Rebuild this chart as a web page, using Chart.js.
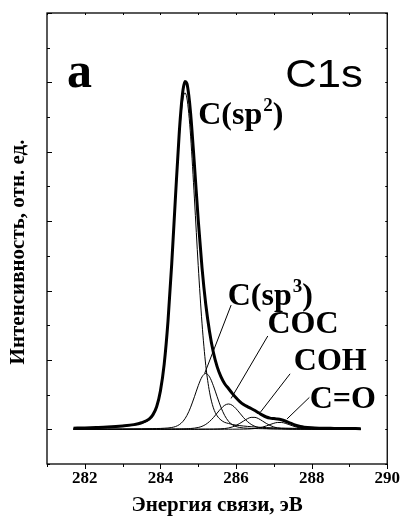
<!DOCTYPE html>
<html>
<head>
<meta charset="utf-8">
<script src="https://cdn.jsdelivr.net/npm/chart.js@4/dist/chart.umd.min.js"></script>
<style>
  html, body { margin: 0; padding: 0; background: #fff; }
  canvas { display: block; }
</style>
</head>
<body>
<canvas id="xps" width="404" height="519"></canvas>
<script>
// binding energy grid, eV
const energy = [281.7, 282.0, 282.3, 282.6, 283.0, 283.3, 283.5, 283.7, 283.8, 283.9,
  284.0, 284.1, 284.2, 284.3, 284.4, 284.5, 284.55, 284.6, 284.65, 284.7,
  284.75, 284.8, 284.9, 285.0, 285.1, 285.2, 285.3, 285.4, 285.5, 285.6,
  285.7, 285.8, 285.9, 286.0, 286.1, 286.2, 286.3, 286.4, 286.5, 286.6,
  286.7, 286.8, 286.9, 287.0, 287.1, 287.2, 287.3, 287.4, 287.5, 287.6,
  287.7, 287.8, 288.0, 288.2, 288.5, 288.9, 289.3];

// measured envelope
const envelope = [0.032, 0.039, 0.050, 0.064, 0.096, 0.135, 0.189, 0.294, 0.416, 0.650,
  1.104, 1.880, 3.109, 4.785, 6.733, 8.579, 9.293, 9.800, 10.025, 9.969,
  9.632, 9.095, 7.619, 6.035, 4.663, 3.599, 2.815, 2.222, 1.808, 1.519,
  1.315, 1.175, 1.037, 0.909, 0.801, 0.713, 0.653, 0.599, 0.541, 0.475,
  0.408, 0.355, 0.323, 0.309, 0.298, 0.275, 0.239, 0.194, 0.148, 0.110,
  0.081, 0.062, 0.042, 0.033, 0.028, 0.022, 0.019];

// fitted components
const sp2 = [0.027, 0.033, 0.042, 0.055, 0.084, 0.12, 0.17, 0.27, 0.39, 0.62,
  1.07, 1.84, 3.06, 4.72, 6.64, 8.43, 9.10, 9.55, 9.70, 9.55,
  9.10, 8.43, 6.64, 4.72, 3.06, 1.84, 1.07, 0.62, 0.39, 0.27,
  0.20, 0.17, 0.14, 0.12, 0.107, 0.094, 0.084, 0.075, 0.067, 0.061,
  0.055, 0.050, 0.046, 0.042, 0.039, 0.036, 0.033, 0.031, 0.029, 0.027,
  0.025, 0.024, 0.021, 0.018, 0.016, 0.013, 0.011];
const sp3 = [0.003, 0.004, 0.005, 0.006, 0.008, 0.011, 0.013, 0.017, 0.019, 0.022,
  0.025, 0.031, 0.038, 0.053, 0.080, 0.134, 0.177, 0.233, 0.306, 0.398,
  0.508, 0.638, 0.940, 1.257, 1.511, 1.61, 1.511, 1.257, 0.940, 0.638,
  0.398, 0.233, 0.134, 0.080, 0.053, 0.038, 0.031, 0.025, 0.022, 0.019,
  0.017, 0.015, 0.013, 0.012, 0.011, 0.010, 0.009, 0.008, 0.008, 0.007,
  0.007, 0.006, 0.005, 0.005, 0.004, 0.004, 0.003];
const coc = [0.001, 0.002, 0.002, 0.002, 0.003, 0.003, 0.004, 0.005, 0.005, 0.006,
  0.007, 0.007, 0.008, 0.009, 0.010, 0.012, 0.013, 0.014, 0.015, 0.017,
  0.020, 0.023, 0.034, 0.053, 0.086, 0.142, 0.226, 0.336, 0.467, 0.595,
  0.693, 0.73, 0.693, 0.595, 0.467, 0.336, 0.226, 0.142, 0.086, 0.053,
  0.034, 0.023, 0.017, 0.014, 0.012, 0.010, 0.009, 0.008, 0.007, 0.007,
  0.006, 0.005, 0.005, 0.004, 0.003, 0.003, 0.002];
const coh = [0.000, 0.001, 0.001, 0.001, 0.001, 0.001, 0.001, 0.001, 0.001, 0.002,
  0.002, 0.002, 0.002, 0.002, 0.002, 0.002, 0.002, 0.002, 0.003, 0.003,
  0.003, 0.003, 0.003, 0.004, 0.004, 0.005, 0.006, 0.007, 0.010, 0.014,
  0.022, 0.039, 0.067, 0.110, 0.170, 0.239, 0.304, 0.344, 0.344, 0.304,
  0.239, 0.170, 0.110, 0.067, 0.039, 0.022, 0.014, 0.010, 0.007, 0.006,
  0.005, 0.004, 0.003, 0.003, 0.002, 0.002, 0.001];
const co = [0.000, 0.000, 0.000, 0.000, 0.000, 0.001, 0.001, 0.001, 0.001, 0.001,
  0.001, 0.001, 0.001, 0.001, 0.001, 0.001, 0.001, 0.001, 0.001, 0.001,
  0.001, 0.001, 0.001, 0.001, 0.002, 0.002, 0.002, 0.002, 0.002, 0.002,
  0.002, 0.003, 0.003, 0.004, 0.004, 0.006, 0.008, 0.013, 0.022, 0.038,
  0.063, 0.097, 0.137, 0.174, 0.197, 0.197, 0.174, 0.137, 0.097, 0.063,
  0.038, 0.022, 0.008, 0.004, 0.003, 0.002, 0.001];

// leader lines from labels to peaks: [label end, peak end]
const leaderSp3 = { e: [285.87, 285.17], i: [3.58, 1.61] };
const leaderCoc = { e: [286.84, 285.87], i: [2.69, 0.89] };
const leaderCoh = { e: [287.43, 286.65], i: [1.60, 0.50] };
const leaderCo  = { e: [287.94, 287.35], i: [0.92, 0.30] };

const xTicks = [281, 282, 283, 284, 285, 286, 287, 288, 289, 290];
const yTicks = [-1, 0, 1, 2, 3, 4, 5, 6, 7, 8, 9, 10, 11, 12];

const serif = '"Liberation Serif", "DejaVu Serif", serif';

function pts(xs, ys) {
  return xs.map((x, i) => ({ x: x, y: ys[i] }));
}

function curve(data, width) {
  return {
    data: data,
    borderColor: '#000',
    borderWidth: width,
    pointRadius: 0,
    fill: false,
    cubicInterpolationMode: 'monotone'
  };
}

function leader(l) {
  return { data: pts(l.e, l.i), borderColor: '#000', borderWidth: 1, pointRadius: 0, tension: 0 };
}

// frame, inward ticks, labels and axis titles
const decor = {
  id: 'decor',
  afterDatasetsDraw(chart) {
    const ctx = chart.ctx;
    const a = chart.chartArea;
    const xs = chart.scales.x, ys = chart.scales.y;
    ctx.save();
    ctx.strokeStyle = '#000';
    ctx.fillStyle = '#000';
    ctx.lineWidth = 1.3;
    ctx.strokeRect(a.left, a.top, a.right - a.left, a.bottom - a.top);

    ctx.lineWidth = 1;
    ctx.beginPath();
    xTicks.forEach(v => {
      const px = Math.round(xs.getPixelForValue(v)) + 0.5;
      const len = v % 2 === 0 ? 5 : 3;
      ctx.moveTo(px, a.bottom); ctx.lineTo(px, a.bottom + len);
      ctx.moveTo(px, a.top); ctx.lineTo(px, a.top + 2);
    });
    yTicks.forEach(v => {
      const py = Math.round(ys.getPixelForValue(v)) + 0.5;
      const len = v % 2 === 0 ? 5 : 3;
      ctx.moveTo(a.left, py); ctx.lineTo(a.left + len, py);
      ctx.moveTo(a.right, py); ctx.lineTo(a.right - 2, py);
    });
    ctx.stroke();

    const at = (e, i) => [xs.getPixelForValue(e), ys.getPixelForValue(i)];
    ctx.textBaseline = 'alphabetic';
    ctx.textAlign = 'left';

    function sup(base, s, e, i) {
      const [x, y] = at(e, i);
      ctx.font = 'bold 32px ' + serif;
      ctx.fillText(base, x, y);
      let w = ctx.measureText(base).width;
      ctx.font = 'bold 19px ' + serif;
      ctx.fillText(s, x + w + 1, y - 13);
      w += ctx.measureText(s).width + 1;
      ctx.font = 'bold 32px ' + serif;
      ctx.fillText(')', x + w, y);
    }
    sup('C(sp', '2', 285.0, 8.79);
    sup('C(sp', '3', 285.78, 3.58);

    ctx.font = 'bold 32px ' + serif;
    let p = at(286.83, 2.77); ctx.fillText('COC', p[0], p[1]);
    p = at(287.53, 1.71); ctx.fillText('COH', p[0], p[1]);
    p = at(287.95, 0.61); ctx.fillText('C=O', p[0], p[1]);

    ctx.font = 'bold 50px ' + serif;
    p = at(281.53, 9.88); ctx.fillText('a', p[0], p[1]);

    ctx.font = '39px "Liberation Sans", Arial, sans-serif';
    p = at(287.3, 9.88);
    ctx.save();
    ctx.translate(p[0], p[1]);
    ctx.scale(1.12, 1);
    ctx.fillText('C1s', 0, 0);
    ctx.restore();

    // axis titles
    ctx.font = 'bold 21px ' + serif;
    ctx.textAlign = 'center';
    ctx.fillText('Энергия связи, эВ', (a.left + a.right) / 2, 511);
    ctx.translate(19, 252);
    ctx.rotate(-Math.PI / 2);
    ctx.textBaseline = 'middle';
    ctx.fillText('Интенсивность, отн. ед.', 0, 0);
    ctx.restore();
  }
};

new Chart(document.getElementById('xps'), {
  type: 'line',
  data: {
    datasets: [
      curve(pts(energy, envelope), 3),
      curve(pts(energy, sp2), 1),
      curve(pts(energy, sp3), 1),
      curve(pts(energy, coc), 1),
      curve(pts(energy, coh), 1),
      curve(pts(energy, co), 1),
      leader(leaderSp3),
      leader(leaderCoc),
      leader(leaderCoh),
      leader(leaderCo)
    ]
  },
  options: {
    responsive: false,
    animation: false,
    devicePixelRatio: 1,
    layout: { padding: { top: 13, right: 12, left: 0, bottom: 0 } },
    plugins: { legend: { display: false }, tooltip: { enabled: false } },
    scales: {
      x: {
        type: 'linear',
        min: 281,
        max: 290,
        grid: { display: false, drawTicks: false },
        border: { display: false },
        afterBuildTicks: s => { s.ticks = xTicks.map(v => ({ value: v })); },
        afterFit: s => { s.height = 55; },
        ticks: {
          autoSkip: false,
          maxRotation: 0,
          padding: 4,
          color: '#000',
          font: { family: serif, weight: 'bold', size: 17 },
          callback: v => (v % 2 === 0 ? String(v) : '')
        }
      },
      y: {
        type: 'linear',
        min: -1,
        max: 12,
        grid: { display: false, drawTicks: false },
        border: { display: false },
        ticks: { display: false },
        afterFit: s => { s.width = 47; }
      }
    }
  },
  plugins: [decor]
});
</script>
</body>
</html>
